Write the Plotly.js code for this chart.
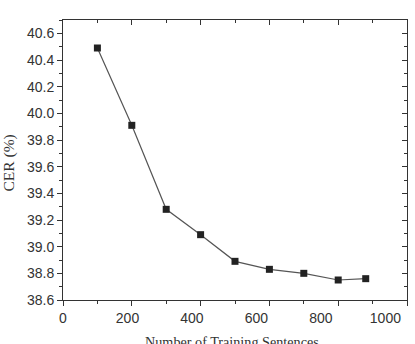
<!DOCTYPE html>
<html>
<head>
<meta charset="utf-8">
<script src="https://cdn.plot.ly/plotly-3.0.1.min.js"></script>
<style>html,body{margin:0;padding:0;background:#fff;}#chart{width:415px;height:344px;}</style>
</head>
<body>
<div id="chart"></div>
<script>
const sentences = [100, 200, 300, 400, 500, 600, 700, 800, 880];
const cer = [40.49, 39.91, 39.28, 39.09, 38.89, 38.83, 38.80, 38.75, 38.76];
const xTickVals = [0, 200, 400, 600, 800, 1000];
const yTickVals = [38.6, 38.8, 39.0, 39.2, 39.4, 39.6, 39.8, 40.0, 40.2, 40.4, 40.6];
const xTitle = 'Number of Training Sentences';
const yTitle = 'CER (%)';

const axisColor = '#333';
const tickFont = {family: 'Liberation Sans, Arial, sans-serif', size: 14, color: '#333'};
const xTitleFont = {family: 'Liberation Serif, Times New Roman, serif', size: 14.2, color: '#333'};
const yTitleFont = {family: 'Liberation Serif, Times New Roman, serif', size: 15.5, color: '#333'};

const trace = {
  x: sentences, y: cer, type: 'scatter', mode: 'lines+markers',
  line: {color: '#555', width: 1.2},
  marker: {symbol: 'square', size: 7, color: '#222'},
  hoverinfo: 'skip', showlegend: false
};
const ghostTop = {x: sentences, y: cer, xaxis: 'x2', yaxis: 'y2', type: 'scatter', mode: 'none', hoverinfo: 'skip', showlegend: false};
const ghostLabels = {x: sentences, y: cer, xaxis: 'x3', yaxis: 'y', type: 'scatter', mode: 'none', hoverinfo: 'skip', showlegend: false};

const layout = {
  width: 415, height: 344,
  margin: {l: 63, r: 8, t: 20, b: 44},
  paper_bgcolor: '#fff', plot_bgcolor: '#fff',
  xaxis: {
    range: [0, 1000], tickvals: xTickVals, showticklabels: false,
    ticks: 'outside', ticklen: 5, tickwidth: 1, tickcolor: axisColor,
    minor: {dtick: 100, ticks: 'outside', ticklen: 3, tickcolor: axisColor, showgrid: false},
    showline: true, linecolor: axisColor, linewidth: 1, showgrid: false, zeroline: false,
    automargin: false
  },
  xaxis3: {
    overlaying: 'x', side: 'bottom', anchor: 'y', range: [0, 1067],
    tickvals: xTickVals, ticktext: xTickVals.map(String),
    ticks: 'outside', ticklen: 5, tickcolor: 'rgba(0,0,0,0)',
    showline: false, showgrid: false, zeroline: false,
    tickfont: tickFont, ticklabeloverflow: 'allow',
    automargin: false
  },
  yaxis: {
    range: [38.6, 40.7], tickvals: yTickVals, ticktext: yTickVals.map(v => v.toFixed(1)),
    ticks: 'outside', ticklen: 5, tickwidth: 1, tickcolor: axisColor,
    minor: {dtick: 0.1, tick0: 38.6, ticks: 'outside', ticklen: 3, tickcolor: axisColor, showgrid: false},
    showline: true, linecolor: axisColor, linewidth: 1, showgrid: false, zeroline: false,
    tickfont: tickFont,
    automargin: false
  },
  xaxis2: {
    overlaying: 'x', side: 'top', anchor: 'y', matches: 'x', range: [0, 1000],
    tickvals: xTickVals, showticklabels: false,
    ticks: 'inside', ticklen: 5, tickcolor: axisColor,
    minor: {dtick: 100, ticks: 'inside', ticklen: 3, tickcolor: axisColor},
    showline: true, linecolor: axisColor, linewidth: 1, showgrid: false, zeroline: false
  },
  yaxis2: {
    overlaying: 'y', side: 'right', anchor: 'x', matches: 'y', range: [38.6, 40.7],
    tickvals: yTickVals, showticklabels: false,
    ticks: 'inside', ticklen: 5, tickcolor: axisColor,
    minor: {dtick: 0.1, tick0: 38.6, ticks: 'inside', ticklen: 3, tickcolor: axisColor},
    showline: true, linecolor: axisColor, linewidth: 1, showgrid: false, zeroline: false
  },
  annotations: [
    {text: xTitle, xref: 'paper', yref: 'paper', x: 0.49, y: 0, xanchor: 'center', yanchor: 'middle',
     yshift: -42, showarrow: false, font: xTitleFont},
    {text: yTitle, xref: 'paper', yref: 'paper', x: 0, y: 0.4875, xanchor: 'center', yanchor: 'middle',
     xshift: -55, textangle: -90, showarrow: false, font: yTitleFont}
  ]
};

Plotly.newPlot('chart', [trace, ghostTop, ghostLabels], layout, {staticPlot: true, displayModeBar: false});
</script>
</body>
</html>
